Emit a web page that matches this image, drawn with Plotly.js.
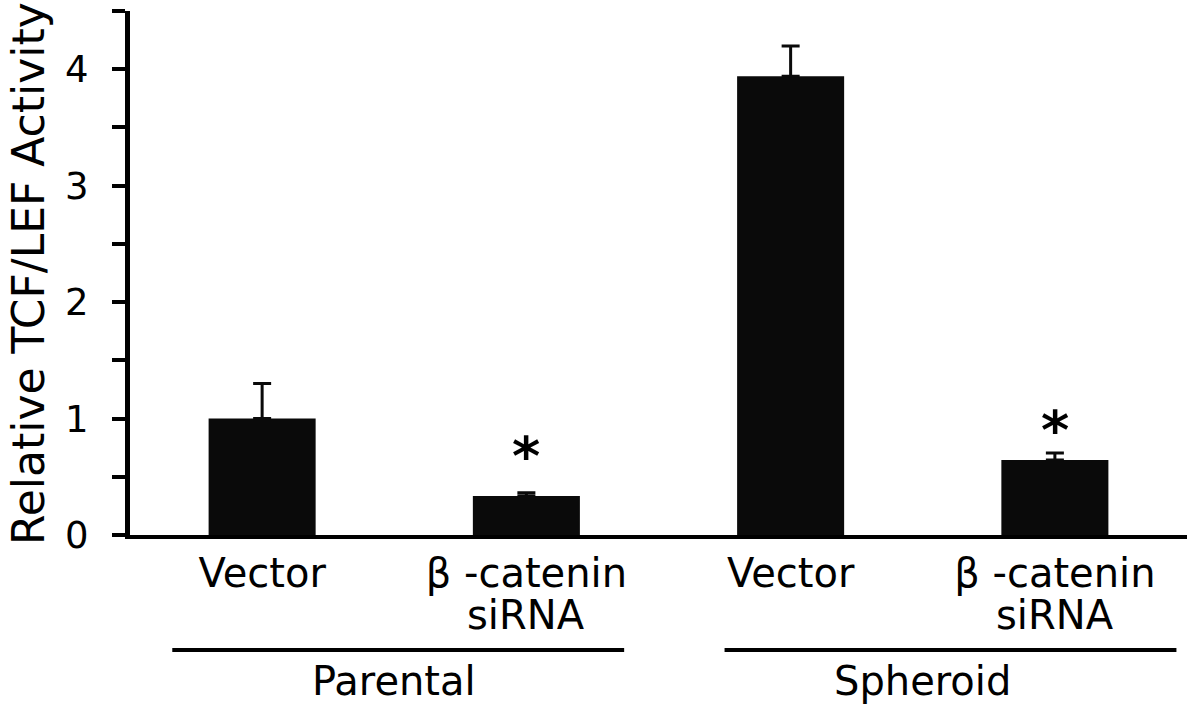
<!DOCTYPE html>
<html>
<head>
<meta charset="utf-8">
<script src="https://cdn.plot.ly/plotly-3.0.1.min.js"></script>
<style>html,body{margin:0;padding:0;background:#fff;}#chart{width:1200px;height:707px;}</style>
</head>
<body>
<div id="chart"></div>
<script>
// Data
var categoryLine1 = ["Vector", "β -catenin", "Vector", "β -catenin"];
var categoryLine2 = ["", "siRNA", "", "siRNA"];
var categoryPos = [0, 1, 2, 3];
var activity = [1.0, 0.335, 3.94, 0.645];
var errorUp = [0.30, 0.028, 0.26, 0.06];
var sigMarks = ["", "*", "", "*"];
var sigY = [null, 0.76, null, 0.98];
var groups = ["Parental", "Spheroid"];
var groupCenter = [0.5, 2.5];
var groupLineStart = [-0.34, 1.75];
var groupLineEnd = [1.37, 3.46];
var yTickVals = [0, 0.5, 1, 1.5, 2, 2.5, 3, 3.5, 4, 4.5];
var yTickText = ["0", "", "1", "", "2", "", "3", "", "4", ""];

var FONT = "DejaVu Sans, Liberation Sans, Arial, sans-serif";

var trace = {
  type: "bar",
  x: categoryPos,
  y: activity,
  width: 0.405,
  marker: {color: "#0a0a0a", line: {width: 0}},
  error_y: {
    type: "data",
    symmetric: false,
    array: errorUp,
    arrayminus: errorUp.map(function(){return 0;}),
    color: "#0a0a0a",
    thickness: 3,
    width: 9
  },
  hoverinfo: "none"
};

var annotations = [];
for (var i = 0; i < sigMarks.length; i++) {
  if (sigMarks[i]) {
    annotations.push({
      x: categoryPos[i], y: sigY[i], xref: "x", yref: "y",
      text: sigMarks[i], showarrow: false,
      xanchor: "center", yanchor: "middle",
      font: {family: FONT, size: 54, color: "#000", weight: "bold"},
      yshift: -10
    });
  }
  if (categoryLine2[i]) {
    annotations.push({
      x: categoryPos[i], y: -0.152, xref: "x", yref: "paper",
      text: categoryLine2[i], showarrow: false,
      xanchor: "center", yanchor: "middle",
      height: 34,
      font: {family: FONT, size: 40, color: "#000"}
    });
  }
}
var shapes = [];
for (var g = 0; g < groups.length; g++) {
  shapes.push({
    type: "line", xref: "x", yref: "paper",
    x0: groupLineStart[g], x1: groupLineEnd[g],
    y0: -0.2195, y1: -0.2195,
    line: {color: "#000", width: 4}
  });
  annotations.push({
    x: groupCenter[g], y: -0.279, xref: "x", yref: "paper",
    text: groups[g], showarrow: false,
    xanchor: "center", yanchor: "middle",
    font: {family: FONT, size: 40, color: "#000"}
  });
}
annotations.push({
  x: -0.0966, y: 0.5, xref: "paper", yref: "paper",
  text: "Relative TCF/LEF Activity", showarrow: false,
  textangle: -90, xanchor: "center", yanchor: "middle",
  font: {family: FONT, size: 44, color: "#000"}
});

var layout = {
  width: 1200, height: 707,
  margin: {l: 130, r: 13, t: 11, b: 172},
  paper_bgcolor: "#fff", plot_bgcolor: "#fff",
  showlegend: false,
  xaxis: {
    range: [-0.5, 3.5],
    tickvals: categoryPos,
    ticktext: categoryLine1,
    ticks: "", ticklen: 0,
    showgrid: false, zeroline: false,
    showline: true, linecolor: "#000", linewidth: 4,
    tickfont: {family: FONT, size: 40, color: "#000"},
    ticklabelstandoff: 0,
    fixedrange: true
  },
  yaxis: {
    range: [0, 4.5],
    tickvals: yTickVals,
    ticktext: yTickText,
    ticks: "outside", ticklen: 13, tickwidth: 4, tickcolor: "#000",
    showgrid: false, zeroline: false,
    showline: true, linecolor: "#000", linewidth: 5,
    tickfont: {family: FONT, size: 37, color: "#000"},
    ticklabelstandoff: 16,
    fixedrange: true
  },
  shapes: shapes,
  annotations: annotations
};

Plotly.newPlot("chart", [trace], layout, {displayModeBar: false, staticPlot: true});
</script>
</body>
</html>
